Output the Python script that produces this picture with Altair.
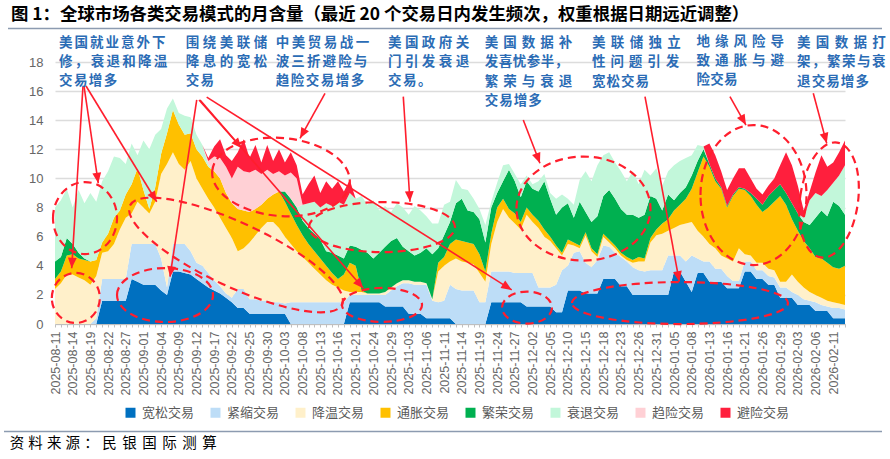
import math
import altair as alt
import pandas as pd

# ---------------------------------------------------------------- data
# trading days shown on the category axis (weekdays)
dates = pd.bdate_range("2025-08-11", "2026-02-13").strftime("%Y-%m-%d").tolist()

series_names = ["宽松交易", "紧缩交易", "降温交易", "通胀交易",
                "繁荣交易", "衰退交易", "趋险交易", "避险交易"]
series_colors = ["#0070C0", "#BDDDF7", "#FFF0CA", "#FFC000",
                 "#00B050", "#C2F7DA", "#FFD0D5", "#FF1F3D"]

easing = [0, 0, 0, 0, 0, 0, 0, 0,
          1.6, 1.6, 1.6, 1.6, 1.6,
          3.1, 2.9, 2.7, 2.7, 2.7,
          2.3, 2.0,
          3.6, 3.6, 3.5, 3.4, 3.1, 2.8,
          2.5, 2.3, 2.1, 1.8, 1.5,
          1.1, 1.1,
          0.7, 0.7, 0.7, 0.7, 0.7, 0.7, 0.7,
          0, 0, 0, 0, 0, 0, 0, 0, 0, 0,
          1.5, 1.5, 1.5, 1.5, 1.5, 1.5,
          1.2, 1.2, 1.2, 1.2,
          0.7, 0.7, 0.7,
          0.4, 0.4, 0.4, 0.4, 0.4,
          0, 0, 0, 0, 0, 0,
          1.5, 1.5, 1.5, 1.5, 1.5, 1.5,
          1.2, 1.2, 1.2, 1.2, 1.2,
          0.8, 0.8,
          2.3, 2.3, 2.3,
          2.1, 2.1, 2.1,
          3.1, 3.1, 3.1,
          2.6, 2.6,
          2.0, 2.0, 2.0, 2.0, 2.0, 2.0, 2.0,
          3.6, 3.6, 2.9, 2.2, 3.5, 3.5,
          2.9, 2.9, 2.9,
          2.45, 2.45, 2.45,
          3.6, 3.6, 3.1, 3.1, 2.7, 2.7,
          1.8, 1.8, 1.8,
          1.3, 1.3, 1.3,
          0.9, 0.9, 0.9,
          0.4, 0.4, 0.4]

tightening = [0, 0, 0, 0, 0, 0, 0, 0.4,
              1.5, 1.5, 1.5, 1.5, 1.5,
              2.4, 2.6, 2.8, 2.8, 2.8, 2.2, 0.5, 1.9, 1.9, 2.0, 1.6, 1.1, 1.2,
              1.0, 0.7, 0.5, 0.3, 0.3,
              1.3, 1.3, 1.0, 1.0, 0.9, 0.9, 0.8, 0.8, 0.7,
              1.5, 1.5, 1.5, 1.5, 1.5, 1.5, 1.5, 1.5, 1.5, 1.5,
              0.5, 0.5, 0.5, 0.5, 0.5, 0.5,
              0.8, 1.1, 1.4, 1.6, 2.1, 2.0, 2.0, 2.3, 1.2, 1.1, 1.2, 2.3,
              2.4, 2.3, 2.3, 2.3, 1.5, 1.5,
              2.1, 2.1, 2.1, 2.1, 2.0, 2.0, 2.3, 2.3, 1.3, 1.3, 1.3, 1.9, 2.9,
              1.7, 2.6, 2.7, 2.1, 1.8, 2.3, 2.3, 2.2, 1.8, 2.0, 1.7, 1.9, 1.7, 1.6,
              1.7, 1.7, 1.7, 2.7, 1.1, 1.1, 1.4, 2.5, 1.0, 0.8,
              1.4, 0.9, 0.9, 0.85, 0.5, 0.5,
              0.7, 0.7, 0.6, 0.6, 0.6, 0.5, 0.7, 0.7,
              0.4, 0.7, 0.4, 0.3, 0.6, 0.4, 0.3, 0.7, 0.7, 0.6]

cooling = [2.4, 2.8, 3.4, 3.4, 3.2, 3.0, 2.7, 2.9,
           1.8, 1.9, 2.4, 3.4, 4.2, 2.1, 2.9, 2.5, 2.1, 2.9, 5.8, 8.5, 6.3, 5.5, 5.1, 6.2, 5.8, 5.3,
           5.1, 5.0, 4.7, 4.5, 4.1,
           2.6, 2.8, 3.9, 4.4, 5.0, 5.4, 5.5, 5.1, 4.6,
           4.0, 3.5, 3.1, 2.7, 2.3, 1.9, 1.5, 1.2, 1.0, 0.8,
           0.2, 0.2, 0.2, 0.1, 0.1, 0.1, 0.2, 0.2, 0.2, 0.2, 0.2, 0.2, 0.2, 0.1, 0.1, 2.1, 2.4, 1.6,
           2.1, 2.0, 1.9, 1.8, 2.0, 1.4,
           1.9, 3.4, 4.3, 3.7, 3.4, 3.0, 4.0, 3.5, 4.1, 3.5, 3.2, 2.5, 1.0,
           1.5, 0.5, 0.2, 1.9, 1.1, 0.2, 0.6, 0.3, 0.3, 0.1, 0.1, 0.3, 0.6, 0.7,
           1.9, 2.4, 2.5, 1.7, 1.9, 2.1, 2.6, 2.3, 1.9, 1.7,
           1.2, 1.4, 0.9, 1.2, 1.35, 2.25,
           0.5, 0.4, 0.5, 0.5, 0.5, 0.5, 0.4, 0.4,
           1.2, 0.9, 0.8, 0.6, 0.5, 0.5, 0.4, 0.4, 0.3, 0.3]

inflation = [0.7, 0.8, 1.3, 1.4, 1.3, 1.4, 1.6, 1.1,
             0.7, 1.2, 1.8, 1.3, 1.6, 2.0, 2.3, 1.2, 0.3, 1.0, 1.4, 2.1, 2.9, 2.7, 2.4, 1.9, 2.0, 2.2,
             2.2, 2.5, 2.7, 2.4, 2.4,
             2.9, 2.6, 2.1, 1.8, 1.6, 1.6, 1.9, 2.5, 2.4,
             2.1, 1.8, 1.5, 1.3, 1.2, 1.1, 1.0, 0.8, 0.6, 1.1,
             2.0, 1.8, 0.1, 0, 0, 0, 0, 0, 0, 0, 0, 0, 0, 0, 0, 0.6, 0.6, 1.2,
             1.3, 1.4, 1.4, 1.4, 1.3, 0.7,
             0.7, 1.0, 0.7, 0.6, 0.7, 0.5, 0.5, 0.5, 0.5, 0.5, 0.3, 0.2, 0.2,
             0.3, 0.2, 0.2, 0.2, 0.2, 0.2, 0.2, 0.2, 0.2, 0.2, 0.2, 0.2, 0.3, 0.2,
             0.3, 0.4, 0.7, 0.8, 1.2, 1.4, 1.7, 2.3, 4.0, 5.5,
             5.3, 4.6, 4.6, 3.5, 4.5, 4.1,
             4.4, 4.1, 4.0, 3.5, 4.2, 4.7, 5.9, 5.3,
             3.8, 3.5, 3.2, 3.0, 2.6, 2.7, 2.6, 2.4, 2.4, 2.7]

boom = [1.2, 1.0, 1.2, 0.7, 0.4, 0.1, 0, 0,
        0, 0, 0, 0, 0, 0, 0, 0, 0, 0, 0, 0, 0, 0, 0, 0, 0, 0,
        0, 0, 0, 0, 0,
        0, 0, 0, 0, 0, 0, 0, 0, 0.7,
        1.0, 1.2, 1.0, 1.1, 1.2, 1.3, 1.0, 1.4, 1.6, 1.1,
        1.2, 1.3, 2.8, 2.8, 2.4, 2.8, 3.1, 3.2, 3.1, 2.3, 2.0, 1.8, 2.0, 2.4, 3.1, 1.0, 1.5, 1.5,
        2.5, 2.9, 2.2, 2.2, 2.4, 2.0,
        1.8, 1.0, 1.2, 2.7, 2.2, 1.7, 1.8, 1.8, 2.0, 3.3, 2.6, 2.1, 3.1,
        2.5, 1.7, 3.0, 1.4, 1.8, 2.6, 2.6, 3.4, 3.2, 3.0, 2.9, 3.1, 2.7, 3.0,
        2.9, 2.1, 0.9, 1.7, 0.7, 0.8, 0.8, 0.9, 0.8, 0.5,
        0.2, 0.2, 0.1, 0.1, 0.1, 0.1,
        0.1, 0.2, 0.4, 0.5, 0.8, 0.8, 0.8, 0.8,
        1.1, 1.2, 1.3, 1.6, 2.7, 3.3, 3.2, 4.5, 4.3, 3.5]

recession = [3.7, 3.9, 3.4, 2.5, 4.3, 3.8, 4.7, 4.0,
             4.2, 4.3, 4.2, 3.6, 2.1, 2.8, 0.9, 3.4, 4.1, 3.6, 1.7, 1.7, 0.8, 0.8, 1.3, 1.1, 1.0, 0.8,
             0.2, 0, 0, 0, 0,
             0, 0, 0, 0, 0, 0, 0, 0, 0,
             0, 0, 1.1, 1.7, 2.2, 2.2, 3.3, 3.2, 3.7, 3.7,
             3.6, 3.3, 3.7, 3.3, 4.0, 2.9, 2.8, 2.0, 2.4, 2.7, 2.5, 3.4, 2.9, 2.2, 2.1, 1.7, 2.1, 1.4,
             1.6, 0.7, 1.4, 0.9, 0.7, 1.2,
             0.4, 0.7, 1.1, 0.4, 0.5, 0.9, 0.4, 0.3, 0.7, 0.5, 0.4, 1.1, 0.9,
             0.3, 0.9, 1.5, 2.8, 2.8, 3.5, 2.8, 2.6, 2.5, 2.6, 2.3, 3.0, 2.3, 3.1,
             1.4, 2.1, 1.7, 1.6, 2.4, 2.2, 2.0, 1.4, 1.1, 0.2,
             0, 0, 0, 0, 0, 0,
             0, 0, 0, 0, 0, 0, 0, 0,
             0, 0, 0.3, 1.7, 1.7, 1.0, 1.8, 1.3, 2.1, 3.4]

risk_on = ([0] * 26
           + [0.2, 1.0, 1.4, 1.8, 1.7,
              2.9, 2.7, 2.7, 2.7, 2.1, 2.0, 1.4, 1.4, 1.1, 1.8, 2.0]
           + [0] * 93)

risk_off = ([0] * 26
            + [0.2, 0.7, 1.3, 0.8, 1.2,
               1.0, 2.2, 1.0, 1.7, 0.8, 1.7, 0.9, 1.5, 0.9, 1.4, 0.9,
               0.7, 1.3, 1.8, 1.0, 1.5, 1.2, 1.4, 0.9, 0.9]
            + [0] * 60
            + [1.4, 1.6, 1.1, 1.1, 1.1, 1.3, 1.4, 1.0, 0.7, 0.7, 0.7, 0.8, 1.3, 2.8, 2.6, 1.9,
               0.5, 0.6, 1.4, 2.8, 1.6, 1.4, 1.6, 1.7])

series_values = [easing, tightening, cooling, inflation, boom, recession, risk_on, risk_off]

rows = []
for k, (name, vals) in enumerate(zip(series_names, series_values)):
    for d, v in enumerate(vals):
        rows.append({"day": d, "date": dates[d], "series": name, "k": k, "value": v})
df = pd.DataFrame(rows)

# ---------------------------------------------------------------- layout
PLOT_W, PLOT_H = 790, 262
LEFT, TOP = 55, 62
Y_MAX = 18
N_DAYS = len(dates)
PX_PER_DAY = PLOT_W / (N_DAYS - 1)
PX_PER_UNIT = PLOT_H / Y_MAX

CJK = "Noto Sans CJK SC"
LATIN = "Liberation Sans"
RED = "#FF1E2D"
NOTE_BLUE = "#2B6CB5"
AXIS_GREY = "#666666"

# ---------------------------------------------------------------- callouts
# dashed ellipses: centre (day, level), radii in px, tilt in degrees
ellipses = [
    (5.09, 7.28, 32, 36, 0),
    (3.53, 1.79, 24, 25, 0),
    (18.66, 1.99, 48, 27, 0),
    (30.70, 4.74, 117, 32, 25),
    (55.47, 1.31, 40, 17, 0),
    (38.33, 10.10, 69, 39, 5),
    (55.47, 6.66, 73, 25, 0),
    (89.64, 7.93, 67, 52, 0),
    (80.06, 1.13, 25, 16, 0),
    (106.01, 1.44, 108, 21, 0),
    (118.48, 8.86, 53, 70, 0),
    (131.29, 8.52, 29, 58, 8),
]

# arrows: from (day, level) to (day, level)
arrows = [
    (4.75, 16.35, 2.83, 3.83),
    (4.92, 16.35, 7.34, 9.67),
    (5.26, 16.35, 17.25, 8.40),
    (24.04, 15.39, 19.51, 3.25),
    (24.43, 15.39, 31.67, 12.07),
    (24.60, 15.39, 52.29, 2.45),
    (25.73, 15.59, 77.47, 2.34),
    (45.80, 15.85, 41.56, 12.76),
    (59.08, 15.62, 60.21, 8.40),
    (79.43, 14.01, 82.26, 11.04),
    (100.08, 15.62, 105.90, 2.91),
    (114.49, 15.62, 117.20, 13.67),
    (128.62, 15.85, 130.90, 12.41),
]

# text boxes: left edge (page px) and lines of (text, centre y, character pitch)
note_boxes = [
    (59.3, [("美国就业意外下", 42.7, 15.5), ("修，衰退和降温", 62.3, 15.8), ("交易增多", 81.0, 14.9)]),
    (186.0, [("围绕美联储", 42.7, 17.0), ("降息的宽松", 62.3, 17.0), ("交易", 81.0, 14.8)]),
    (276.0, [("中美贸易战一", 42.7, 16.0), ("波三折避险与", 62.3, 15.6), ("趋险交易增多", 81.0, 15.0)]),
    (388.3, [("美国政府关", 42.7, 16.9), ("门引发衰退", 62.3, 16.9), ("交易。", 81.0, 15.0)]),
    (485.0, [("美国数据补", 43.3, 18.5), ("发喜忧参半，", 62.3, 14.0),
             ("繁荣与衰退", 81.7, 18.5), ("交易增多", 100.9, 14.5)]),
    (592.3, [("美联储独立", 43.3, 18.8), ("性问题引发", 62.3, 18.4), ("宽松交易", 81.7, 14.5)]),
    (696.7, [("地缘风险导", 41.7, 18.5), ("致通胀与避", 60.7, 18.5), ("险交易", 80.0, 13.75)]),
    (797.3, [("美国数据打", 42.7, 18.8), ("架，繁荣与衰", 62.3, 15.0), ("退交易增多", 81.7, 14.6)]),
]

title_text = "图 1：全球市场各类交易模式的月含量（最近 20 个交易日内发生频次，权重根据日期远近调整）"
source_parts = [("资料来源：", 10.0, 18.6), ("民银国际测算", 102.5, 20.0)]

# ---------------------------------------------------------------- tables
ell_rows = []
for d, v, rx, ry, tilt in ellipses:
    r = max(rx, ry)
    a, b = rx / r, ry / r
    path = f"M{-a:.4f},0A{a:.4f},{b:.4f},0,1,1,{a:.4f},0A{a:.4f},{b:.4f},0,1,1,{-a:.4f},0Z"
    ell_rows.append({"day": d, "level": v, "path": path, "size": (2 * r) ** 2, "ang": tilt})
ell_df = pd.DataFrame(ell_rows)

arr_rows = []
for d0, v0, d1, v1 in arrows:
    dx = (d1 - d0) * PX_PER_DAY
    dy = -(v1 - v0) * PX_PER_UNIT
    ang = math.degrees(math.atan2(dx, -dy)) % 360
    arr_rows.append({"day": d0, "level": v0, "day2": d1, "level2": v1, "ang": ang})
arr_df = pd.DataFrame(arr_rows)

GLYPH = 13.0
note_rows = []
for left, lines in note_boxes:
    for text, y, pitch in lines:
        for i, ch in enumerate(text):
            note_rows.append({"px": left + i * pitch + GLYPH / 2 - LEFT, "py": y - TOP, "ch": ch})
note_df = pd.DataFrame(note_rows)

src_rows = []
for text, left, pitch in source_parts:
    for i, ch in enumerate(text):
        src_rows.append({"px": left + i * pitch + 7.0 - LEFT, "py": 443.5 - TOP, "ch": ch})
src_df = pd.DataFrame(src_rows)

# ---------------------------------------------------------------- chart
date_array = "[" + ",".join("'%s'" % s for s in dates) + "]"
label_expr = f"datum.value % 3 == 0 ? {date_array}[datum.value] : ''"

x_scale = alt.Scale(domain=[0, N_DAYS - 1], nice=False, zero=False)
y_scale = alt.Scale(domain=[0, Y_MAX], nice=False)

x_axis = alt.Axis(values=list(range(N_DAYS)), labelExpr=label_expr,
                  labelAngle=270, labelOverlap=False, labelFlush=False, labelBound=False,
                  labelFont=LATIN, labelFontSize=12.5, labelColor=AXIS_GREY, labelPadding=4,
                  tickSize=3, tickColor="#BFBFBF", domainColor="#BFBFBF", grid=False)
y_axis = alt.Axis(values=list(range(0, Y_MAX + 1, 2)), labelFont=LATIN, labelFontSize=13,
                  labelColor=AXIS_GREY, labelPadding=12, labelOverlap=False, labelFlush=False,
                  labelBound=False, ticks=False, tickSize=0,
                  domain=False, grid=True, gridColor="#DCDCDC", gridWidth=1.5)

areas = alt.Chart(df).mark_area(interpolate="linear").encode(
    x=alt.X("day:Q", scale=x_scale, title=None, axis=x_axis),
    y=alt.Y("value:Q", stack="zero", scale=y_scale, title=None, axis=y_axis),
    color=alt.Color("series:N", scale=alt.Scale(domain=series_names, range=series_colors),
                    legend=alt.Legend(orient="none", legendX=69, legendY=344, direction="horizontal",
                                      columns=8, title=None, symbolType="square", symbolSize=100,
                                      symbolStrokeWidth=0, symbolOpacity=1, labelFont=CJK,
                                      labelFontSize=13, labelColor="#595959", labelOffset=5,
                                      columnPadding=14, padding=0, labelLimit=0)),
    order=alt.Order("k:Q", sort="ascending"),
)

rings = alt.Chart(ell_df).mark_point(filled=False, color=RED, strokeWidth=2.2,
                                     strokeDash=[8, 5], opacity=1).encode(
    x=alt.X("day:Q", scale=x_scale, title=None, axis=x_axis),
    y=alt.Y("level:Q", scale=y_scale, title=None, axis=y_axis),
    shape=alt.Shape("path:N", scale=None),
    size=alt.Size("size:Q", scale=None),
    angle=alt.Angle("ang:Q", scale=None),
)

shafts = alt.Chart(arr_df).mark_rule(color=RED, strokeWidth=1.6).encode(
    x=alt.X("day:Q", scale=x_scale, title=None, axis=x_axis),
    y=alt.Y("level:Q", scale=y_scale, title=None, axis=y_axis),
    x2=alt.X2("day2:Q", title=None),
    y2=alt.Y2("level2:Q", title=None),
)

heads = alt.Chart(arr_df).mark_point(filled=True, color=RED, opacity=1, strokeWidth=0).encode(
    x=alt.X("day2:Q", scale=x_scale, title=None, axis=x_axis),
    y=alt.Y("level2:Q", scale=y_scale, title=None, axis=y_axis),
    shape=alt.value("M0,0L-0.42,1L0.42,1Z"),
    size=alt.value(440),
    angle=alt.Angle("ang:Q", scale=None),
)

notes = alt.Chart(note_df).mark_text(font=CJK, fontSize=13.5, fontWeight="bold", color=NOTE_BLUE,
                                     align="center", baseline="middle").encode(
    x=alt.X("px:Q", scale=None, title=None),
    y=alt.Y("py:Q", scale=None, title=None),
    text="ch:N",
)

title = alt.Chart(pd.DataFrame({"t": [title_text]})).mark_text(
    font=CJK, fontSize=17.4, fontWeight="bold", color="#000000", align="left", baseline="middle"
).encode(x=alt.value(11 - LEFT), y=alt.value(14.5 - TOP), text="t:N")

source = alt.Chart(src_df).mark_text(font=CJK, fontSize=14.5, color="#000000",
                                     align="center", baseline="middle").encode(
    x=alt.X("px:Q", scale=None, title=None),
    y=alt.Y("py:Q", scale=None, title=None),
    text="ch:N",
)

top_rule = alt.Chart(pd.DataFrame({"a": [0]})).mark_rule(color="#8C9BB0", strokeWidth=1.4).encode(
    x=alt.value(8 - LEFT), x2=alt.value(882 - LEFT), y=alt.value(28.5 - TOP))
bottom_rule = alt.Chart(pd.DataFrame({"a": [0]})).mark_rule(color="#8C9BB0", strokeWidth=1.4).encode(
    x=alt.value(4 - LEFT), x2=alt.value(882 - LEFT), y=alt.value(431.5 - TOP))

chart = alt.layer(
    areas, rings, shafts, heads, notes, title, source, top_rule, bottom_rule
).properties(
    width=PLOT_W, height=PLOT_H,
    autosize=alt.AutoSizeParams(type="none"),
    padding={"left": LEFT, "top": TOP, "right": 890 - LEFT - PLOT_W, "bottom": 459 - TOP - PLOT_H},
    background="#FFFFFF",
).configure_view(stroke=None).configure_axis(labelOverlap=False, labelFlush=False)

chart.save("out.html", embed_options={"renderer": "svg", "actions": False})
